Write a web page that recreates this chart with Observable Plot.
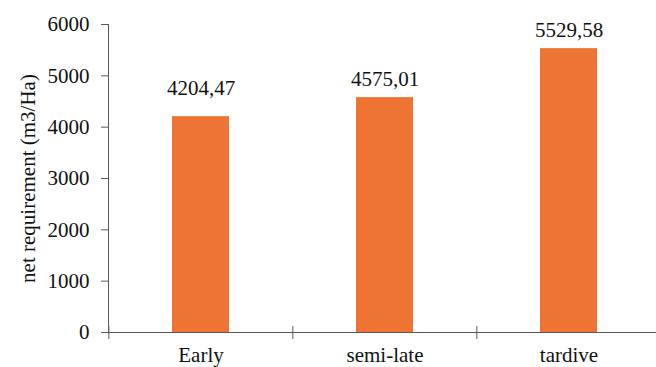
<!DOCTYPE html>
<html>
<head>
<meta charset="utf-8">
<script src="https://cdn.jsdelivr.net/npm/d3@7"></script>
<script src="https://cdn.jsdelivr.net/npm/@observablehq/plot@0.6"></script>
<style>
  html, body { margin: 0; padding: 0; background: #fff; }
  #chart svg { display: block; }
</style>
</head>
<body>
<div id="chart"></div>
<script>
// Net irrigation requirement per variety cycle
const categories = ["Early", "semi-late", "tardive"];
const values = [4204.47, 4575.01, 5529.58];
const yTicks = [0, 1000, 2000, 3000, 4000, 5000, 6000];

const data = categories.map((c, i) => ({category: c, value: values[i]}));
const fmt = v => v.toFixed(2).replace(".", ",");

const W = 656, H = 367;
const left = 108, bandEnd = 661;           // the last band runs past the right edge
const step = (bandEnd - left) / categories.length;
const axisColor = "#595959";
const textColor = "#111";

const chart = Plot.plot({
  width: W,
  height: H,
  marginLeft: left,
  marginRight: 0,
  marginTop: 24,
  marginBottom: 35,
  style: {fontFamily: "'Liberation Serif', 'Times New Roman', serif", fontSize: "21px", background: "#fff"},
  x: {type: "band", domain: categories, range: [left, bandEnd], paddingInner: 0.69, paddingOuter: 0.345, align: 0.5},
  y: {domain: [0, 6000]},
  marks: [
    Plot.barY(data, {x: "category", y: "value", fill: "#ED7432"}),
    // axis lines
    Plot.frame({anchor: "left", stroke: axisColor}),
    Plot.ruleY([0], {stroke: axisColor, strokeWidth: 1.2}),
    // dividers between categories on the baseline
    Plot.ruleX(categories, {x: d => d, y1: -135, y2: 115, dx: -step / 2, stroke: axisColor}),
    Plot.axisY({
      ticks: yTicks, tickSize: 7, tickPadding: 12, tickFormat: d => String(d),
      stroke: axisColor, fill: textColor, fontSize: 21,
      label: "net requirement (m3/Ha)", labelAnchor: "center", labelOffset: 88, labelArrow: "none"
    }),
    Plot.axisX({tickSize: 0, tickPadding: 15, fill: textColor, fontSize: 21, label: null}),
    // value labels above the bars
    Plot.text(data.filter(d => d.category === "Early"), {
      x: "category", y: "value", text: d => fmt(d.value), dy: -28, fill: textColor, fontSize: 21
    }),
    Plot.text(data.filter(d => d.category !== "Early"), {
      x: "category", y: "value", text: d => fmt(d.value), dy: -18, fill: textColor, fontSize: 21
    })
  ]
});

document.getElementById("chart").appendChild(chart);
</script>
</body>
</html>
